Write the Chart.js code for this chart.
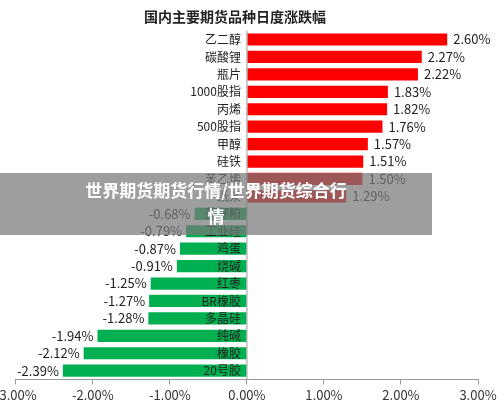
<!DOCTYPE html>
<html><head><meta charset="utf-8">
<script src="https://cdn.jsdelivr.net/npm/chart.js@4"></script>
<style>
body{margin:0;background:#fff;font-family:"Noto Sans CJK SC",sans-serif;overflow:hidden;}
#wrap{position:relative;width:500px;height:410px;overflow:hidden;}
#c{position:absolute;left:-8px;top:0;}
#mark{position:absolute;left:0;top:173px;width:432px;height:62px;background:rgba(120,120,120,0.72);color:#fff;font-weight:bold;font-size:17px;text-align:center;line-height:26px;padding-top:4px;box-sizing:border-box;}
</style></head><body>
<div id="wrap"><canvas id="c" width="508" height="406"></canvas>
<div id="mark">世界期货期货行情/世界期货综合行<br>情</div></div>
<script>
const categories = ['乙二醇','碳酸锂','瓶片','1000股指','丙烯','500股指','甲醇','硅铁','苯乙烯','纸浆','菜籽粕','工业硅','鸡蛋','烧碱','红枣','BR橡胶','多晶硅','纯碱','橡胶','20号胶'];
const changes = [2.60,2.27,2.22,1.83,1.82,1.76,1.57,1.51,1.50,1.29,-0.68,-0.79,-0.87,-0.91,-1.25,-1.27,-1.28,-1.94,-2.12,-2.39];
const xTicks = [-3,-2,-1,0,1,2,3];

const labelPlugin = {
  id: 'labels',
  afterDatasetsDraw(chart) {
    const ctx = chart.ctx, x = chart.scales.x;
    const zero = x.getPixelForValue(0);
    chart.getDatasetMeta(0).data.forEach((bar, i) => {
      const v = changes[i];
      ctx.save();
      ctx.fillStyle = '#222';
      ctx.textBaseline = 'middle';
      ctx.font = '12px "Noto Sans CJK SC"';
      ctx.textAlign = 'right';
      ctx.fillText(categories[i], zero - 6, bar.y);
      ctx.font = '13px "Noto Sans CJK SC"';
      if (v >= 0) { ctx.textAlign = 'left'; ctx.fillText(v.toFixed(2) + '%', bar.x + 6, bar.y); }
      else { ctx.textAlign = 'right'; ctx.fillText(v.toFixed(2) + '%', bar.x - 4, bar.y); }
      ctx.restore();
    });
  }
};

new Chart(document.getElementById('c'), {
  type: 'bar',
  data: {
    labels: categories,
    datasets: [{
      data: changes,
      backgroundColor: changes.map(v => v >= 0 ? '#ff0000' : '#00b050'),
      categoryPercentage: 0.7, barPercentage: 1
    }]
  },
  options: {
    indexAxis: 'y', responsive: false, animation: false,
    layout: { padding: { left: 0, right: 22, top: 0, bottom: 0 } },
    plugins: {
      legend: { display: false }, tooltip: { enabled: false },
      title: { display: true, text: '国内主要期货品种日度涨跌幅', color: '#222',
        font: { size: 14, weight: 'bold', family: '"Noto Sans CJK SC"' }, padding: { top: 8, bottom: 6 } }
    },
    scales: {
      x: {
        min: -3, max: 3,
        afterBuildTicks: s => { s.ticks = xTicks.map(v => ({ value: v })); },
        ticks: { color: '#333', font: { size: 13, family: '"Noto Sans CJK SC"' }, callback: v => v.toFixed(2) + '%' },
        grid: { drawOnChartArea: false, tickLength: 5, color: '#999' },
        border: { color: '#999' }
      },
      y: {
        ticks: { display: false },
        grid: { display: false },
        border: { display: false }
      }
    }
  },
  plugins: [labelPlugin, {
    id: 'zeroLine',
    afterDraw(chart) {
      const ctx = chart.ctx, a = chart.chartArea, z = chart.scales.x.getPixelForValue(0);
      ctx.save(); ctx.strokeStyle = '#999'; ctx.beginPath();
      ctx.moveTo(z, a.top); ctx.lineTo(z, a.bottom); ctx.stroke(); ctx.restore();
    }
  }]
});
</script></body></html>
